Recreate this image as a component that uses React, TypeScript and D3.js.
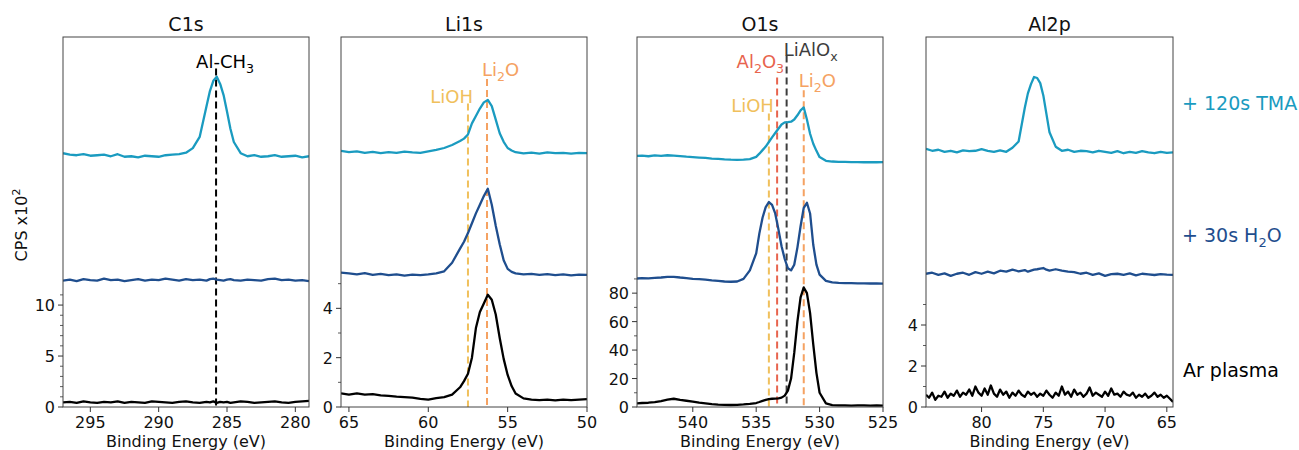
import React from 'react';
import * as d3 from 'd3';

// ---------------- DATA ----------------
const c1sEnergy = [297, 296.5, 296, 295.5, 295, 294.5, 294, 293.5, 293, 292.5, 292, 291.5, 291, 290.5, 290, 289.5, 289, 288.5, 288, 287.5, 287, 286.5,
  286.25, 286, 285.75, 285.5, 285.25, 285, 284.75, 284.5,
  284, 283.5, 283, 282.5, 282, 281.5, 281, 280.5, 280, 279.5, 279];
const c1sAr = [0.45, 0.5, 0.4, 0.55, 0.45, 0.4, 0.5, 0.45, 0.55, 0.4, 0.5, 0.45, 0.4, 0.55, 0.5, 0.45, 0.4, 0.5, 0.55, 0.45, 0.4, 0.5,
  0.45, 0.55, 0.4, 0.5, 0.45, 0.5, 0.4, 0.45,
  0.55, 0.5, 0.4, 0.45, 0.5, 0.55, 0.45, 0.4, 0.5, 0.55, 0.6];
const c1sH2O = [12.4, 12.5, 12.35, 12.55, 12.45, 12.4, 12.6, 12.45, 12.5, 12.35, 12.45, 12.55, 12.4, 12.5, 12.45, 12.6, 12.5, 12.4, 12.55, 12.45, 12.5, 12.4,
  12.55, 12.6, 12.5, 12.45, 12.4, 12.5, 12.55, 12.45,
  12.4, 12.5, 12.45, 12.4, 12.55, 12.6, 12.45, 12.5, 12.4, 12.45, 12.35];
const c1sTMA = [24.9, 24.75, 24.7, 24.8, 24.65, 24.7, 24.75, 24.6, 24.8, 24.55, 24.6, 24.5, 24.65, 24.6, 24.55, 24.7, 24.75, 24.8, 24.95, 25.4, 26.5, 29.5,
  31.0, 32.0, 32.4, 31.7, 30.6, 29.0, 27.3, 26.0,
  24.9, 24.6, 24.7, 24.55, 24.6, 24.7, 24.55, 24.6, 24.65, 24.5, 24.6];

const li1sEnergy = [65.5, 65, 64.5, 64, 63.5, 63, 62.5, 62, 61.5, 61, 60.5, 60, 59.5, 59, 58.5, 58,
  57.75, 57.5, 57.25, 57, 56.75, 56.5, 56.25, 56, 55.75, 55.5, 55.25, 55, 54.75,
  54.5, 54, 53.5, 53, 52.5, 52, 51.5, 51, 50.5, 50];
const li1sAr = [0.55, 0.5, 0.55, 0.5, 0.52, 0.47, 0.45, 0.42, 0.4, 0.38, 0.33, 0.3, 0.36, 0.4, 0.5, 0.8,
  1.05, 1.35, 2.0, 3.2, 3.85, 4.2, 4.55, 4.35, 3.75, 2.8, 1.95, 1.3, 0.85,
  0.55, 0.35, 0.3, 0.28, 0.3, 0.27, 0.3, 0.28, 0.3, 0.32];
const li1sH2O = [5.45, 5.42, 5.38, 5.43, 5.36, 5.4, 5.35, 5.38, 5.33, 5.37, 5.35, 5.38, 5.42, 5.5, 5.85, 6.42,
  6.7, 7.05, 7.45, 7.85, 8.2, 8.55, 8.85, 8.2, 7.35, 6.6, 5.95, 5.6, 5.48,
  5.42, 5.38, 5.4, 5.36, 5.39, 5.35, 5.38, 5.34, 5.37, 5.36];
const li1sTMA = [10.38, 10.33, 10.36, 10.3, 10.34, 10.29, 10.33, 10.3, 10.35, 10.32, 10.3, 10.36, 10.42, 10.5, 10.62, 10.78,
  10.88, 11.05, 11.5, 11.8, 12.1, 12.35, 12.45, 12.2, 11.65, 11.1, 10.75, 10.5, 10.4,
  10.33, 10.28, 10.31, 10.27, 10.32, 10.29, 10.3, 10.27, 10.3, 10.29];

const o1sEnergy = [544.4, 544, 543.5, 543, 542.5, 542, 541.5, 541, 540.5, 540, 539.5, 539, 538.5, 538, 537.5, 537, 536.5, 536, 535.5, 535,
  534.75, 534.5, 534.25, 534, 533.75, 533.5, 533.25, 533, 532.75, 532.5, 532.25, 532, 531.75, 531.5, 531.25, 531, 530.75, 530.5, 530.25,
  530, 529.5, 529, 528.5, 528, 527.5, 527, 526.5, 526, 525.5, 525];
const o1sAr = [2.6, 2.8, 3.0, 3.5, 4.2, 5.2, 5.8, 5.0, 4.4, 3.8, 3.0, 2.5, 2.0, 1.7, 1.5, 1.4, 1.5, 1.8, 2.2, 2.8,
  3.5, 4.3, 5.0, 5.6, 5.8, 5.9, 6.1, 6.6, 8.0, 11.5, 20, 38, 60, 77, 84, 80, 66, 44, 24,
  10, 2.5, 1.3, 1.1, 1.2, 1.0, 1.1, 1.2, 1.0, 1.1, 1.0];
const o1sH2O = [90.3, 90.5, 90.4, 90.8, 91.0, 91.4, 91.5, 91.0, 90.6, 90.0, 89.8, 89.5, 89.0, 88.6, 88.2, 88.0, 88.2, 90.0, 96, 108,
  122, 133, 140.5, 144, 142, 136, 125, 113, 104, 97.5, 96, 100, 112, 127, 140, 143.5, 136, 114, 100,
  93, 88.6, 87.6, 87.2, 87.1, 87.0, 86.9, 86.9, 86.8, 86.8, 86.7];
const o1sTMA = [176.4, 176.6, 176.2, 176.8, 176.5, 176.9, 176.6, 176.3, 175.9, 175.6, 175.3, 175.0, 174.6, 174.3, 174.0, 173.8, 173.7, 173.8, 174.2, 175.8,
  178, 180.5, 183, 186.2, 189.5, 192.5, 195.5, 198.5, 200, 200.2, 200.5, 202, 205, 208.5, 210.5, 202, 192, 185, 180,
  175.6, 173, 172.5, 172.3, 172.2, 172.1, 172.1, 172.0, 172.1, 172.0, 172.1];

const al2pEnergy = [84.5, 84, 83.5, 83, 82.5, 82, 81.5, 81, 80.5, 80, 79.5, 79, 78.5, 78, 77.5, 77, 76.5,
  76.25, 76, 75.75, 75.5, 75.25, 75, 74.75, 74.5,
  74, 73.5, 73, 72.5, 72, 71.5, 71, 70.5, 70, 69.5, 69, 68.5, 68, 67.5, 67, 66.5, 66, 65.5, 65, 64.5];
const al2pArEnergy = [84.5, 84.25, 84, 83.75, 83.5, 83.25, 83, 82.75, 82.5, 82.25, 82, 81.75, 81.5, 81.25, 81, 80.75,
  80.5, 80.25, 80, 79.75, 79.5, 79.25, 79, 78.75, 78.5, 78.25, 78, 77.75, 77.5, 77.25, 77, 76.75,
  76.5, 76.25, 76, 75.75, 75.5, 75.25, 75, 74.75, 74.5, 74.25, 74, 73.75, 73.5, 73.25, 73, 72.75,
  72.5, 72.25, 72, 71.75, 71.5, 71.25, 71, 70.75, 70.5, 70.25, 70, 69.75, 69.5, 69.25, 69, 68.75,
  68.5, 68.25, 68, 67.75, 67.5, 67.25, 67, 66.75, 66.5, 66.25, 66, 65.75, 65.5, 65.25, 65, 64.75, 64.5];
const al2pAr = [0.6, 0.45, 0.7, 0.35, 0.55, 0.5, 0.75, 0.45, 0.65, 0.55, 0.8, 0.5, 0.7, 0.6, 0.85, 0.55,
  1.0, 0.7, 0.55, 0.9, 0.6, 1.05, 0.65, 0.5, 0.85, 0.6, 0.75, 0.45, 0.7, 0.55, 0.8, 0.6,
  0.5, 0.75, 0.6, 0.7, 0.5, 0.65, 0.55, 0.8, 0.6, 0.45, 0.7, 0.55, 1.0, 0.6, 0.75, 0.5,
  0.85, 0.6, 0.7, 0.5, 0.65, 0.95, 0.55, 0.7, 0.6, 0.5, 0.75, 0.55, 0.9, 0.6, 0.65, 0.5,
  0.75, 0.6, 0.55, 0.7, 0.45, 0.6, 0.5, 0.65, 0.45, 0.55, 0.7, 0.5, 0.6, 0.45, 0.55, 0.4, 0.25];
const al2pH2O = [6.5, 6.55, 6.45, 6.52, 6.4, 6.5, 6.55, 6.45, 6.58, 6.5, 6.6, 6.52, 6.65, 6.6, 6.7, 6.62, 6.68,
  6.6, 6.65, 6.7, 6.72, 6.75, 6.78, 6.7, 6.65,
  6.72, 6.65, 6.6, 6.58, 6.5, 6.55, 6.45, 6.52, 6.4, 6.48, 6.5, 6.45, 6.52, 6.42, 6.5, 6.47, 6.44, 6.48, 6.46, 6.45];
const al2pTMA = [12.6, 12.5, 12.55, 12.45, 12.5, 12.42, 12.52, 12.48, 12.5, 12.58, 12.5, 12.45, 12.52, 12.45, 12.65, 12.95, 14.6,
  15.3, 15.75, 16.1, 16.05, 15.8, 15.2, 14.3, 13.4,
  12.7, 12.5, 12.55, 12.45, 12.5, 12.48, 12.42, 12.5, 12.45, 12.4, 12.48, 12.38, 12.45, 12.4, 12.48, 12.42, 12.38, 12.45, 12.4, 12.42];

const panelTitles = ['C1s', 'Li1s', 'O1s', 'Al2p'];
const xDomains = [[297, 279], [65.5, 50], [544.4, 525], [84.5, 64.5]];
const yMaxes = [36.3, 15.0, 260, 18.05];
const xTickValues = [[295, 290, 285, 280], [65, 60, 55, 50], [540, 535, 530, 525], [80, 75, 70, 65]];
const yMajorTicks = [[0, 5, 10], [0, 2, 4], [0, 20, 40, 60, 80], [0, 2, 4]];
const yMinorTicks = [[1, 2, 3, 4, 6, 7, 8, 9, 11], [1, 3, 5], [10, 30, 50, 70, 90], [1, 3, 5]];

// reference lines: name, energy, top value
const c1sRefs = [{ name: 'Al-CH3', energy: 285.8, top: 33.2 }];
const li1sRefs = [{ name: 'LiOH', energy: 57.5, top: 12.3 }, { name: 'Li2O', energy: 56.3, top: 13.3 }];
const o1sRefs = [
  { name: 'LiOH', energy: 534.0, top: 206.3 },
  { name: 'Al2O3', energy: 533.35, top: 231.6 },
  { name: 'LiAlOx', energy: 532.6, top: 247 },
  { name: 'Li2O', energy: 531.25, top: 222.5 },
];
const al2pRefs: { name: string; energy: number; top: number }[] = [];

const sampleLabels = ['+ 120s TMA', '+ 30s H2O', 'Ar plasma'];

// ---------------- STYLE / LAYOUT ----------------
const FONT = 'DejaVu Sans, Liberation Sans, sans-serif';
const COLORS = { ar: '#000000', h2o: '#1f4e8e', tma: '#1a9bc0' };
const panelX = [[63, 309], [341, 587], [637, 883], [926, 1173]];
const TOP = 37;
const BOTTOM = 407;

const refStyles: Record<string, { color: string; anchor: 'start' | 'middle' | 'end'; dx: number; dy: number; parts: { t: string; sub?: boolean }[] }> = {
  'Al-CH3': { color: '#000000', anchor: 'middle', dx: 9, dy: -1, parts: [{ t: 'Al-CH' }, { t: '3', sub: true }] },
  LiOH: { color: '#f0c05c', anchor: 'end', dx: 5, dy: -1, parts: [{ t: 'LiOH' }] },
  Li2O: { color: '#f5a262', anchor: 'start', dx: -5, dy: -3, parts: [{ t: 'Li' }, { t: '2', sub: true }, { t: 'O' }] },
  Al2O3: { color: '#e8644e', anchor: 'end', dx: 7, dy: -9, parts: [{ t: 'Al' }, { t: '2', sub: true }, { t: 'O' }, { t: '3', sub: true }] },
  LiAlOx: { color: '#3d3d3d', anchor: 'start', dx: -3, dy: 0, parts: [{ t: 'LiAlO' }, { t: 'x', sub: true }] },
};

function Label({ parts, size }: { parts: { t: string; sub?: boolean }[]; size: number }) {
  const out: React.ReactNode[] = [];
  let shifted = false;
  parts.forEach((p, i) => {
    if (p.sub) {
      out.push(<tspan key={i} dy={shifted ? 0 : size * 0.28} fontSize={size * 0.7}>{p.t}</tspan>);
      shifted = true;
    } else {
      out.push(<tspan key={i} dy={shifted ? -size * 0.28 : 0}>{p.t}</tspan>);
      shifted = false;
    }
  });
  return <>{out}</>;
}

type Panel = {
  title: string;
  energy: number[];
  arEnergy?: number[];
  ar: number[];
  h2o: number[];
  tma: number[];
  refs: { name: string; energy: number; top: number }[];
  idx: number;
};

function SpectrumPanel({ p }: { p: Panel }) {
  const [x0, x1] = panelX[p.idx];
  const x = d3.scaleLinear().domain(xDomains[p.idx]).range([x0, x1]);
  const y = d3.scaleLinear().domain([0, yMaxes[p.idx]]).range([BOTTOM, TOP]);
  const line = d3.line<[number, number]>().x((d) => x(d[0])).y((d) => y(d[1]));
  const mk = (es: number[], vals: number[]) => line(es.map((e, i) => [e, vals[i]] as [number, number])) || '';
  const clipId = `clip-${p.idx}`;
  return (
    <g>
      <defs>
        <clipPath id={clipId}>
          <rect x={x0} y={TOP} width={x1 - x0} height={BOTTOM - TOP} />
        </clipPath>
      </defs>
      <text x={(x0 + x1) / 2} y={31} textAnchor="middle" fontSize={19} fontFamily={FONT} fill="#111">{p.title}</text>
      <g clipPath={`url(#${clipId})`}>
        {p.refs.map((r) => (
          <line key={r.name} x1={x(r.energy)} x2={x(r.energy)} y1={y(r.top)} y2={BOTTOM}
            stroke={refStyles[r.name].color} strokeWidth={2} strokeDasharray="7,4" />
        ))}
        <path d={mk(p.arEnergy || p.energy, p.ar)} fill="none" stroke={COLORS.ar} strokeWidth={2.3} strokeLinejoin="round" />
        <path d={mk(p.energy, p.h2o)} fill="none" stroke={COLORS.h2o} strokeWidth={2.3} strokeLinejoin="round" />
        <path d={mk(p.energy, p.tma)} fill="none" stroke={COLORS.tma} strokeWidth={2.3} strokeLinejoin="round" />
      </g>
      {p.refs.map((r) => {
        const s = refStyles[r.name];
        return (
          <text key={`t-${r.name}`} x={x(r.energy) + s.dx} y={y(r.top) + s.dy} textAnchor={s.anchor}
            fontSize={18} fontFamily={FONT} fill={s.color}>
            <Label parts={s.parts} size={18} />
          </text>
        );
      })}
      <rect x={x0} y={TOP} width={x1 - x0} height={BOTTOM - TOP} fill="none" stroke="#444" strokeWidth={1} />
      {xTickValues[p.idx].map((t) => (
        <g key={`xt${t}`}>
          <line x1={x(t)} x2={x(t)} y1={BOTTOM} y2={BOTTOM + 5} stroke="#333" strokeWidth={1} />
          <text x={x(t)} y={428} textAnchor="middle" fontSize={16} fontFamily={FONT} fill="#111">{t}</text>
        </g>
      ))}
      {yMajorTicks[p.idx].map((t) => (
        <g key={`yt${t}`}>
          <line x1={x0 - 5} x2={x0} y1={y(t)} y2={y(t)} stroke="#333" strokeWidth={1} />
          <text x={x0 - 8} y={y(t) + 6} textAnchor="end" fontSize={16} fontFamily={FONT} fill="#111">{t}</text>
        </g>
      ))}
      {yMinorTicks[p.idx].map((t) => (
        <line key={`ym${t}`} x1={x0 - 3} x2={x0} y1={y(t)} y2={y(t)} stroke="#333" strokeWidth={0.8} />
      ))}
      <text x={(x0 + x1) / 2} y={447} textAnchor="middle" fontSize={16} fontFamily={FONT} fill="#111">Binding Energy (eV)</text>
    </g>
  );
}

export default function App() {
  const panels: Panel[] = [
    { title: panelTitles[0], energy: c1sEnergy, ar: c1sAr, h2o: c1sH2O, tma: c1sTMA, refs: c1sRefs, idx: 0 },
    { title: panelTitles[1], energy: li1sEnergy, ar: li1sAr, h2o: li1sH2O, tma: li1sTMA, refs: li1sRefs, idx: 1 },
    { title: panelTitles[2], energy: o1sEnergy, ar: o1sAr, h2o: o1sH2O, tma: o1sTMA, refs: o1sRefs, idx: 2 },
    { title: panelTitles[3], energy: al2pEnergy, arEnergy: al2pArEnergy, ar: al2pAr, h2o: al2pH2O, tma: al2pTMA, refs: al2pRefs, idx: 3 },
  ];
  return (
    <svg width={1299} height={450} style={{ position: 'absolute', left: 0, top: 0, background: '#fff' }}>
      <rect x={0} y={0} width={1299} height={450} fill="#fff" />
      {panels.map((p) => <SpectrumPanel key={p.title} p={p} />)}
      <text transform="translate(27,225) rotate(-90)" textAnchor="middle" fontSize={16} fontFamily={FONT} fill="#111">
        CPS x10<tspan dy={-7} fontSize={11}>2</tspan>
      </text>
      <text x={1182} y={110} fontSize={19} fontFamily={FONT} fill={COLORS.tma}>{sampleLabels[0]}</text>
      <text x={1182} y={242} fontSize={19} fontFamily={FONT} fill={COLORS.h2o}>
        + 30s H<tspan dy={5} fontSize={13}>2</tspan><tspan dy={-5}>O</tspan>
      </text>
      <text x={1183} y={377} fontSize={19} fontFamily={FONT} fill={COLORS.ar}>{sampleLabels[2]}</text>
    </svg>
  );
}
